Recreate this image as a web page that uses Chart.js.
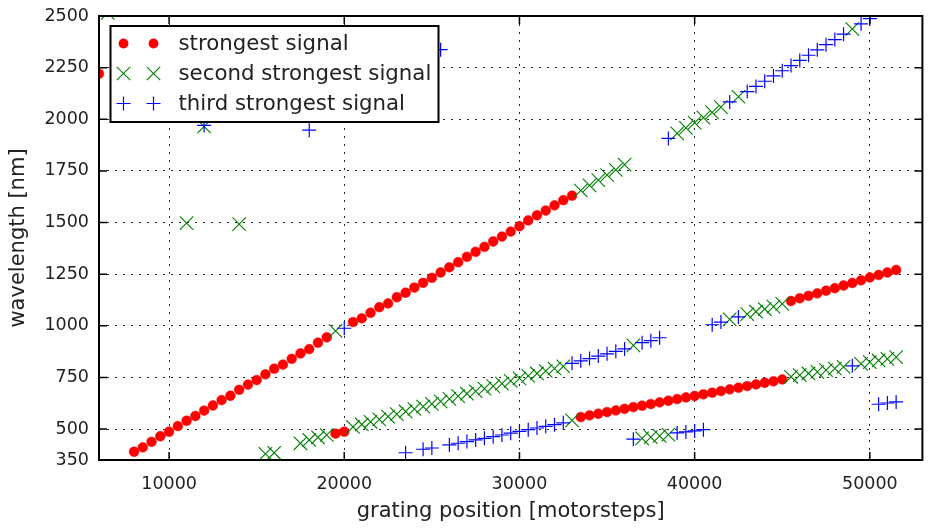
<!DOCTYPE html>
<html><head><meta charset="utf-8">
<script src="https://cdn.jsdelivr.net/npm/chart.js@4/dist/chart.umd.min.js"></script>
<style>html,body{margin:0;padding:0;background:#fff;}canvas{display:block;}</style>
</head><body>
<canvas id="c" width="933" height="531"></canvas>
<script>
// ---- data (grating position [motorsteps], wavelength [nm]) ----
const strongest = [[6000,2220],[8000,390],[8500,411],[9000,438],[9500,465],[10000,487],[10500,514],[11000,540],[11500,563],[12000,589],[12500,614],[13000,640],[13500,661],[14000,690],[14500,715],[15000,737],[15500,765],[16000,792],[16500,812],[17000,840],[17500,866],[18000,887],[18500,918],[19000,944],[19500,478],[20000,487],[20500,1018],[21000,1036],[21500,1063],[22000,1090],[22500,1108],[23000,1138],[23500,1160],[24000,1185],[24500,1208],[25000,1232],[25500,1258],[26000,1283],[26500,1308],[27000,1334],[27500,1358],[28000,1382],[28500,1408],[29000,1432],[29500,1456],[30000,1482],[30500,1510],[31000,1535],[31500,1558],[32000,1583],[32500,1608],[33000,1630],[33500,558],[34000,566],[34500,574],[35000,582],[35500,590],[36000,598],[36500,606],[37000,613],[37500,621],[38000,629],[38500,637],[39000,645],[39500,653],[40000,660],[40500,668],[41000,676],[41500,684],[42000,692],[42500,700],[43000,708],[43500,716],[44000,724],[44500,731],[45000,740],[45500,1120],[46000,1133],[46500,1145],[47000,1157],[47500,1170],[48000,1182],[48500,1195],[49000,1207],[49500,1220],[50000,1234],[50500,1246],[51000,1258],[51500,1270]];
const secondStrongest = [[6500,2515],[11000,1497],[12000,1965],[14000,1492],[15500,380],[16000,385],[17500,431],[18000,447],[18500,460],[19000,471],[19500,975],[20500,510],[21000,522],[21500,535],[22000,547],[22500,560],[23000,572],[23500,585],[24000,597],[24500,609],[25000,622],[25500,634],[26000,646],[26500,659],[27000,671],[27500,683],[28000,696],[28500,708],[29000,720],[29500,733],[30000,745],[30500,757],[31000,769],[31500,781],[32000,793],[32500,803],[33000,542],[33500,1655],[34000,1680],[34500,1705],[35000,1730],[35500,1755],[36000,1780],[36500,905],[37000,455],[37500,461],[38000,467],[38500,473],[39000,1932],[39500,1958],[40000,1983],[40500,2008],[41000,2033],[41500,2059],[42000,1031],[42500,2109],[43000,1056],[43500,1068],[44000,1081],[44500,1093],[45000,1106],[45500,753],[46000,761],[46500,769],[47000,777],[47500,785],[48000,793],[48500,801],[49000,2437],[49500,816],[50000,824],[50500,832],[51000,840],[51500,848]];
const thirdStrongest = [[12000,1970],[18000,1947],[20000,988],[23500,385],[24500,402],[25000,408],[25500,2337],[26000,423],[26500,431],[27000,439],[27500,447],[28000,455],[28500,463],[29000,471],[29500,480],[30000,489],[30500,497],[31000,505],[31500,513],[32000,521],[32500,530],[33000,818],[33500,830],[34000,841],[34500,853],[35000,864],[35500,876],[36000,888],[36500,451],[37000,918],[37500,928],[38000,942],[38500,1907],[39000,481],[39500,486],[40000,491],[40500,497],[41000,1005],[41500,1018],[42000,2084],[42500,1043],[43000,2134],[43500,2159],[44000,2184],[44500,2210],[45000,2235],[45500,2260],[46000,2285],[46500,2310],[47000,2336],[47500,2361],[48000,2386],[48500,2412],[49000,806],[49500,2462],[50000,2487],[50500,620],[51000,626],[51500,631]];
const seriesLabels = ['strongest signal', 'second strongest signal', 'third strongest signal'];
const xTicks = [10000, 20000, 30000, 40000, 50000];
const yTicks = [350, 500, 750, 1000, 1250, 1500, 1750, 2000, 2250, 2500];
const xLabel = 'grating position [motorsteps]';
const yLabel = 'wavelength [nm]';

const FONT = '"DejaVu Sans", "Bitstream Vera Sans", sans-serif';
const TXT = '#222';
const toPts = arr => arr.map(p => ({x: p[0], y: p[1]}));

const styles = [
  {color: '#ff0000', pointStyle: 'circle', radius: 4.9, bw: 0.5, order: 3},
  {color: '#008000', pointStyle: 'crossRot', radius: 9.5, bw: 1.1, order: 2},
  {color: '#0000ff', pointStyle: 'cross', radius: 7, bw: 1.2, order: 1}
];
const seriesData = [strongest, secondStrongest, thirdStrongest];

const datasets = seriesData.map((d, i) => ({
  label: seriesLabels[i],
  data: toPts(d),
  showLine: false,
  pointStyle: styles[i].pointStyle,
  pointRadius: styles[i].radius,
  pointHoverRadius: styles[i].radius,
  pointBorderWidth: styles[i].bw,
  pointBackgroundColor: styles[i].color,
  pointBorderColor: styles[i].color,
  backgroundColor: styles[i].color,
  borderColor: styles[i].color,
  order: styles[i].order,
  clip: 0
}));

function drawMarker(ctx, st, cx, cy) {
  ctx.save();
  ctx.strokeStyle = st.color; ctx.fillStyle = st.color; ctx.lineWidth = st.bw;
  if (st.pointStyle === 'circle') {
    ctx.beginPath(); ctx.arc(cx, cy, st.radius, 0, Math.PI * 2); ctx.fill();
  } else if (st.pointStyle === 'crossRot') {
    const h = st.radius * Math.SQRT1_2;
    ctx.beginPath();
    ctx.moveTo(cx - h, cy - h); ctx.lineTo(cx + h, cy + h);
    ctx.moveTo(cx - h, cy + h); ctx.lineTo(cx + h, cy - h);
    ctx.stroke();
  } else {
    const r = st.radius;
    ctx.beginPath();
    ctx.moveTo(cx - r, cy); ctx.lineTo(cx + r, cy);
    ctx.moveTo(cx, cy - r); ctx.lineTo(cx, cy + r);
    ctx.stroke();
  }
  ctx.restore();
}

const framePlugin = {
  id: 'mplFrame',
  afterDatasetsDraw(chart) {
    const {ctx, chartArea: a, scales: {x, y}} = chart;
    ctx.save();
    // inward ticks on all four sides
    ctx.strokeStyle = '#000'; ctx.lineWidth = 1.5;
    ctx.beginPath();
    xTicks.forEach(v => {
      const px = x.getPixelForValue(v);
      ctx.moveTo(px, a.bottom); ctx.lineTo(px, a.bottom - 8);
      ctx.moveTo(px, a.top); ctx.lineTo(px, a.top + 8);
    });
    yTicks.forEach(v => {
      const py = y.getPixelForValue(v);
      ctx.moveTo(a.left, py); ctx.lineTo(a.left + 8, py);
      ctx.moveTo(a.right, py); ctx.lineTo(a.right - 8, py);
    });
    ctx.stroke();
    // axes frame
    ctx.lineWidth = 2;
    ctx.strokeRect(a.left, a.top, a.right - a.left, a.bottom - a.top);
    // legend (matplotlib style, two markers per entry)
    const lx = a.left + 11.5, ly = a.top + 10, lw = 328, lh = 96;
    ctx.fillStyle = '#fff';
    ctx.fillRect(lx, ly, lw, lh);
    ctx.lineWidth = 2; ctx.strokeStyle = '#000';
    ctx.strokeRect(lx, ly, lw, lh);
    ctx.font = '21.3px ' + FONT;
    ctx.textBaseline = 'middle'; ctx.textAlign = 'left';
    seriesLabels.forEach((lab, i) => {
      const cy = ly + 17.5 + i * 30;
      drawMarker(ctx, styles[i], lx + 13, cy);
      drawMarker(ctx, styles[i], lx + 43, cy);
      ctx.fillStyle = TXT;
      ctx.fillText(lab, lx + 68, cy + 1);
    });
    ctx.restore();
  }
};

new Chart(document.getElementById('c'), {
  type: 'scatter',
  data: {datasets},
  options: {
    responsive: false,
    animation: false,
    events: [],
    layout: {padding: {left: 0, right: 8, top: 16, bottom: 0}},
    plugins: {legend: {display: false}, tooltip: {enabled: false}},
    scales: {
      x: {
        type: 'linear', min: 6000, max: 53000,
        afterFit: s => { s.height = 71; s.paddingLeft = 0; s.paddingRight = 0; },
        afterBuildTicks: s => { s.ticks = xTicks.map(v => ({value: v})); },
        grid: {color: 'rgba(0,0,0,0.85)', lineWidth: 1, drawTicks: false},
        border: {display: false, dash: [2, 6]},
        ticks: {padding: 14, color: TXT, font: {family: FONT, size: 17.5}, maxRotation: 0, callback: v => String(v)},
        title: {display: true, text: xLabel, color: TXT, font: {family: FONT, size: 21}, padding: {top: 0, bottom: 7}}
      },
      y: {
        type: 'linear', min: 350, max: 2500,
        afterFit: s => { s.width = 99; s.paddingTop = 0; s.paddingBottom = 0; },
        afterBuildTicks: s => { s.ticks = yTicks.map(v => ({value: v})); },
        grid: {color: 'rgba(0,0,0,0.85)', lineWidth: 1, drawTicks: false},
        border: {display: false, dash: [2, 6]},
        ticks: {padding: 10, color: TXT, font: {family: FONT, size: 17.5}, callback: v => String(v)},
        title: {display: true, text: yLabel, color: TXT, font: {family: FONT, size: 21}, padding: {top: 6, bottom: 0}}
      }
    }
  },
  plugins: [framePlugin]
});
</script>
</body></html>
